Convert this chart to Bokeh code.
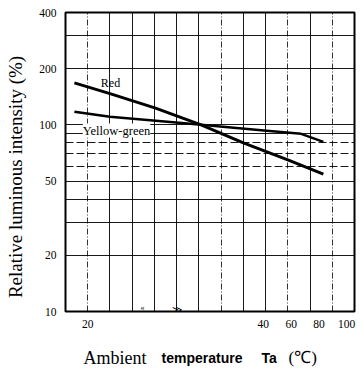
import math
from bokeh.plotting import figure
from bokeh.models import FixedTicker, Grid, Label, Range1d
from bokeh.layouts import row, column
from bokeh.core.properties import value
from bokeh.embed import file_html
from bokeh.resources import INLINE

# ---- data (x in chart grid units, y in %) ----
red_x = [0.4, 2.0, 4.05, 6.1, 8.0, 10.0, 11.6]
red_y = [168, 147, 123, 100, 80, 65, 54.5]
yg_x = [0.4, 2.0, 5.1, 6.1, 9.05, 10.6, 11.6]
yg_y = [117.5, 110.5, 102.5, 100, 93, 89.5, 81]

x_tick_pos = [1.0, 8.9, 10.15, 11.4, 12.65]
x_tick_labels = ["20", "40", "60", "80", "100"]
y_ticks = [10, 20, 50, 100, 200, 400]
y_tick_labels = ["10", "20", "50", "100", "200", "400"]
y_grid_solid = [20, 30, 40, 50, 90, 100, 200, 300]
y_grid_dashed = [60, 70, 80]
x_grid_solid = [2, 3, 4, 5, 6, 8, 9, 11]
x_grid_dashed = [1, 7, 10, 12]

y_title = "Relative luminous intensity (%)"
x_title_parts = ["Ambient", "temperature", "Ta", "(\u2103)"]

SERIF = "Liberation Serif"
SANS = "Liberation Sans"

W, H = 362, 369
YW = 28          # width of y-title strip
XH = 29          # height of x-title strip
PH = H - XH      # main figure height
L, R, T, B = 65 - YW, 8, 12, PH - 311

p = figure(width=W - YW, height=PH, output_backend="svg", toolbar_location=None,
           y_axis_type="log", x_range=(0, 13), y_range=(10, 400),
           min_border_left=L, min_border_right=R, min_border_top=T, min_border_bottom=B)
p.background_fill_color = "white"
p.border_fill_color = "white"
p.outline_line_color = "black"
p.outline_line_width = 2
p.outline_line_alpha = 1

fw = W - YW - L - R
fh = PH - T - B
def dx(px):
    return (px - 65) / fw * 13
def dy(py):
    lo, hi = math.log10(10), math.log10(400)
    return 10 ** (lo + (311 - py) / fh * (hi - lo))

# axes
p.xaxis.ticker = FixedTicker(ticks=x_tick_pos)
p.xaxis.major_label_overrides = {t: s for t, s in zip(x_tick_pos, x_tick_labels)}
p.yaxis.ticker = FixedTicker(ticks=y_ticks)
p.yaxis.major_label_overrides = {t: s for t, s in zip(y_ticks, y_tick_labels)}
for ax in (p.xaxis, p.yaxis):
    ax.axis_line_color = None
    ax.major_tick_line_color = None
    ax.minor_tick_line_color = None
    ax.major_label_text_font = SERIF
    ax.major_label_text_font_size = "11.5px"
    ax.major_label_text_color = "black"
p.xaxis.major_label_standoff = 2
p.yaxis.major_label_standoff = 3

# grids
p.xgrid.ticker = FixedTicker(ticks=x_grid_solid)
p.ygrid.ticker = FixedTicker(ticks=y_grid_solid)
for g in (p.xgrid, p.ygrid):
    g.grid_line_color = "black"
    g.grid_line_width = 1
    g.grid_line_alpha = 0.9
gx2 = Grid(dimension=0, ticker=FixedTicker(ticks=x_grid_dashed), grid_line_color="black",
           grid_line_width=1, grid_line_dash="6 2 1 2", grid_line_alpha=0.8)
gy2 = Grid(dimension=1, ticker=FixedTicker(ticks=y_grid_dashed), grid_line_color="black",
           grid_line_width=1, grid_line_dash="8 3", grid_line_alpha=0.9)
p.add_layout(gx2)
p.add_layout(gy2)

# lines
p.line(red_x, red_y, line_color="black", line_width=3)
p.line(yg_x, yg_y, line_color="black", line_width=2.5)

# series labels
p.add_layout(Label(x=dx(110), y=dy(82), text="Red", text_font=SERIF, text_font_size="12px",
                   text_align="center", text_baseline="middle", text_color="black"))
p.add_layout(Label(x=dx(116), y=dy(130), text="Yellow-green", text_font=SERIF,
                   text_font_size="12.5px", text_align="center", text_baseline="middle",
                   text_color="black", background_fill_color="white"))

# axis break marks
p.add_layout(Label(x=dx(142), y=dy(307), text="\u00ab", text_font=SERIF, text_font_size="8px",
                   text_align="center", text_baseline="middle", text_color="black"))
p.add_layout(Label(x=dx(176), y=dy(309), text="\u226b", text_font=SERIF, text_font_size="10px",
                   text_align="center", text_baseline="middle", text_color="black"))


def blank(width, height, xr, yr):
    f = figure(width=width, height=height, output_backend="svg", toolbar_location=None,
               x_range=Range1d(*xr), y_range=Range1d(*yr),
               x_axis_location=None, y_axis_location=None,
               min_border=0, min_border_left=0, min_border_right=0,
               min_border_top=0, min_border_bottom=0)
    f.outline_line_color = None
    f.grid.visible = False
    f.background_fill_color = "white"
    f.border_fill_color = "white"
    return f

# y title strip (coordinates = page pixels)
py_ = blank(YW, PH, (0, YW), (PH, 0))
py_.text(x=[15], y=[187], text=[y_title], angle=math.pi / 2, text_font=value(SERIF),
         text_font_size="19px", text_align="center", text_baseline="middle", text_color="black")

# x title strip (coordinates = page pixels)
px_ = blank(W, XH, (0, W), (H, PH))
px_.text(x=[83], y=[357], text=[x_title_parts[0]], text_font=value(SERIF), text_font_size="18px",
         text_align="left", text_baseline="middle", text_color="black")
px_.text(x=[161], y=[357], text=[x_title_parts[1]], text_font=value(SANS), text_font_size="14px",
         text_font_style="bold", text_align="left", text_baseline="middle", text_color="black")
px_.text(x=[261], y=[357], text=[x_title_parts[2]], text_font=value(SANS), text_font_size="14px",
         text_font_style="bold", text_align="left", text_baseline="middle", text_color="black")
px_.text(x=[288], y=[357], text=[x_title_parts[3]], text_font=value(SERIF), text_font_size="17px",
         text_align="left", text_baseline="middle", text_color="black")

layout = column(row(py_, p, spacing=0), px_, spacing=0)
open("out.html", "w").write(file_html(layout, INLINE))
